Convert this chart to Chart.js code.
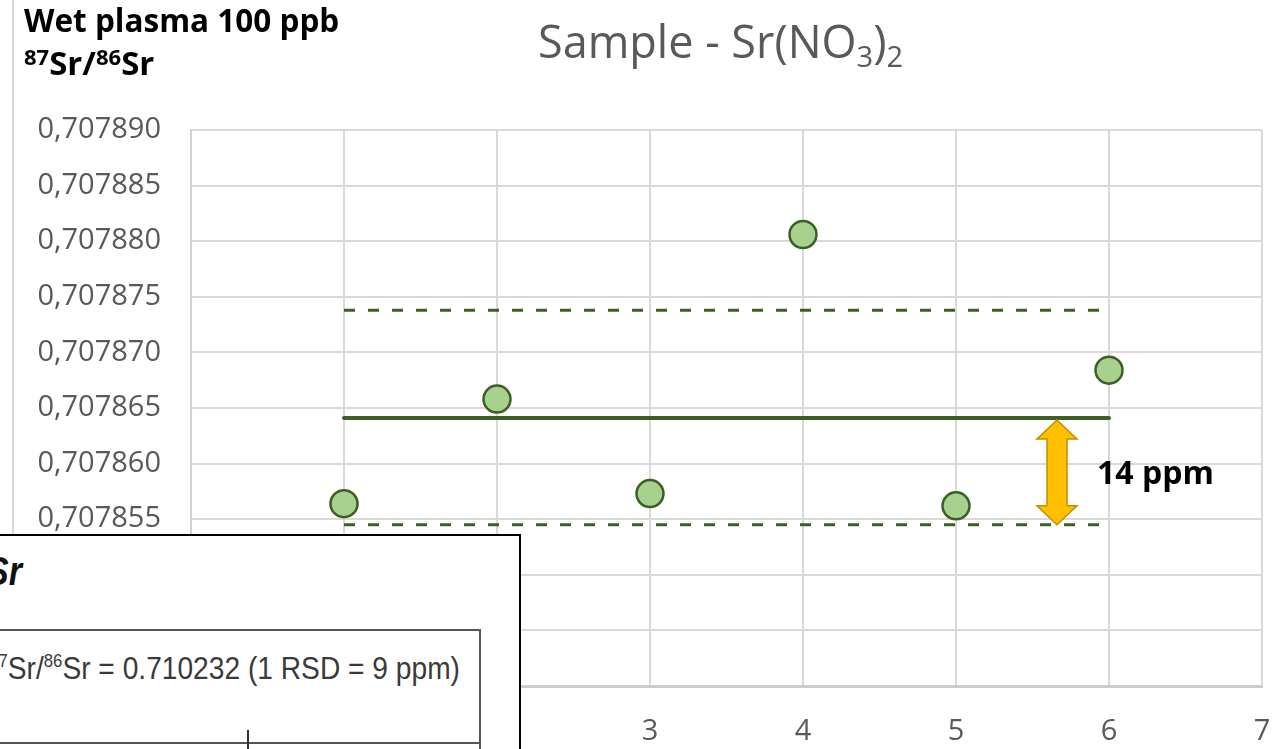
<!DOCTYPE html>
<html>
<head>
<meta charset="utf-8">
<script src="https://cdn.jsdelivr.net/npm/chart.js@4.4.1/dist/chart.umd.min.js"></script>
<style>
  html, body { margin:0; padding:0; background:#fff; overflow:hidden; }
  #wrap { position:relative; width:1278px; height:749px; overflow:hidden; }
  canvas { position:absolute; left:0; top:0; }
  .abs { position:absolute; white-space:nowrap; }
  #leftbar { position:absolute; left:12px; top:0; width:2px; height:540px; background:#d9d9d9; }
  #title { left:538px; top:13px; font-family:"Open Sans"; font-size:45px; color:#595959; line-height:56px; }
  #title sub { font-size:29px; vertical-align:-9px; line-height:0; }
  #tl1 { left:24px; top:-1px; font-family:"Open Sans"; font-weight:bold; font-size:31.5px; color:#000; line-height:42px; }
  #tl2 { left:24px; top:43px; font-family:"Open Sans"; font-weight:bold; font-size:33px; color:#000; line-height:40px; }
  #tl2 sup { font-size:22px; vertical-align:10px; line-height:0; }
  #inset { position:absolute; left:-10px; top:534px; width:527px; height:260px; border:2px solid #000; background:#fff; }
  #insetTitle { position:absolute; right:1256px; top:538px; font-family:"Liberation Sans"; font-weight:bold; font-style:italic; font-size:40px; color:#111; line-height:50px; transform:scaleX(0.85); transform-origin:right center; }
  #insetBox { position:absolute; left:-10px; top:629px; width:487px; height:160px; border:2px solid #555; }
  #insetLine { position:absolute; left:-10px; top:742px; width:489px; height:2px; background:#555; }
  #insetTick { position:absolute; left:247px; top:730px; width:2px; height:25px; background:#333; }
  #insetText { position:absolute; right:818px; top:648px; font-family:"Liberation Sans"; font-size:32px; color:#3a3a3a; line-height:40px; transform:scaleX(0.88); transform-origin:right center; }
  #insetText sup { font-size:19px; vertical-align:12px; line-height:0; }
</style>
</head>
<body>
<div id="wrap">
  <canvas id="c" width="1278" height="749"></canvas>
  <div id="leftbar"></div>
  <div id="title" class="abs">Sample - Sr(NO<sub>3</sub>)<sub>2</sub></div>
  <div id="tl1" class="abs">Wet plasma 100 ppb</div>
  <div id="tl2" class="abs"><sup>87</sup>Sr/<sup>86</sup>Sr</div>
  <div id="inset"></div>
  <div id="insetTitle" class="abs"><sup style="font-size:24px">87</sup>Sr/<sup style="font-size:24px">86</sup>Sr</div>
  <div id="insetBox"></div>
  <div id="insetLine"></div>
  <div id="insetTick"></div>
  <div id="insetText" class="abs"><sup>87</sup>Sr/<sup>86</sup>Sr = 0.710232 (1 RSD = 9 ppm)</div>
</div>
<script>
// ---- data ----
const runs = [1, 2, 3, 4, 5, 6];
const ratios = [0.7078564, 0.7078658, 0.7078573, 0.7078806, 0.7078562, 0.7078684];
const meanRatio = 0.7078641;
const upperRatio = 0.7078738;
const lowerRatio = 0.7078545;
const lineStartX = 1;
const lineEndX = 6;
const arrowX = 5.66;
const arrowLabel = "14 ppm";
const yTickValues = [0.707840, 0.707845, 0.707850, 0.707855, 0.707860, 0.707865, 0.707870, 0.707875, 0.707880, 0.707885, 0.707890];
const yTickLabels = ["0,707840", "0,707845", "0,707850", "0,707855", "0,707860", "0,707865", "0,707870", "0,707875", "0,707880", "0,707885", "0,707890"];
const xTickValues = [0, 1, 2, 3, 4, 5, 6, 7];
const xTickLabels = ["0", "1", "2", "3", "4", "5", "6", "7"];

const darkGreen = '#3b5f25';
const gridColor = '#d9d9d9';
const tickFont = { family: 'Open Sans', size: 29 };

const arrowPlugin = {
  id: 'arrowPlugin',
  afterDatasetsDraw(chart) {
    const ctx = chart.ctx;
    const xs = chart.scales.x, ys = chart.scales.y;
    const cx = xs.getPixelForValue(arrowX);
    const top = ys.getPixelForValue(meanRatio) + 2;
    const bot = ys.getPixelForValue(lowerRatio);
    const hw = 20, sw = 10, hh = 19;
    ctx.save();
    ctx.beginPath();
    ctx.moveTo(cx, top);
    ctx.lineTo(cx + hw, top + hh);
    ctx.lineTo(cx + sw, top + hh);
    ctx.lineTo(cx + sw, bot - hh);
    ctx.lineTo(cx + hw, bot - hh);
    ctx.lineTo(cx, bot);
    ctx.lineTo(cx - hw, bot - hh);
    ctx.lineTo(cx - sw, bot - hh);
    ctx.lineTo(cx - sw, top + hh);
    ctx.lineTo(cx - hw, top + hh);
    ctx.closePath();
    ctx.fillStyle = '#ffc000';
    ctx.fill();
    ctx.strokeStyle = '#c09000';
    ctx.lineWidth = 1.5;
    ctx.stroke();
    ctx.fillStyle = '#000';
    ctx.font = 'bold 32px "Open Sans"';
    ctx.textBaseline = 'alphabetic';
    ctx.textAlign = 'left';
    ctx.fillText(arrowLabel, cx + 40, (top + bot) / 2 + 12);
    ctx.restore();
  }
};

const lineData = v => [{ x: lineStartX, y: v }, { x: lineEndX, y: v }];

new Chart(document.getElementById('c'), {
  type: 'scatter',
  data: {
    datasets: [
      { type: 'line', data: lineData(upperRatio), borderColor: darkGreen, borderWidth: 3, borderDash: [11, 13], pointRadius: 0, order: 3 },
      { type: 'line', data: lineData(lowerRatio), borderColor: darkGreen, borderWidth: 3, borderDash: [11, 13], pointRadius: 0, order: 3 },
      { type: 'line', data: lineData(meanRatio), borderColor: darkGreen, borderWidth: 4, pointRadius: 0, borderCapStyle: 'round', order: 2 },
      { data: runs.map((r, i) => ({ x: r, y: ratios[i] })), backgroundColor: '#a9d18e', borderColor: darkGreen, borderWidth: 2.5, pointRadius: 13.5, pointHoverRadius: 13.5, order: 1 }
    ]
  },
  options: {
    responsive: false,
    animation: false,
    events: [],
    layout: { padding: { top: 130, right: 16, left: 0, bottom: 0 } },
    plugins: { legend: { display: false }, tooltip: { enabled: false }, title: { display: false } },
    scales: {
      x: {
        type: 'linear', min: 0, max: 7,
        afterBuildTicks: s => { s.ticks = xTickValues.map(v => ({ value: v })); },
        afterFit: s => { s.height = 63; s.paddingRight = 0; s.paddingLeft = 0; },
        ticks: { callback: (v, i) => xTickLabels[i], color: '#595959', font: tickFont, padding: 28, maxRotation: 0 },
        grid: { color: gridColor, lineWidth: 2, drawTicks: false },
        border: { color: '#cccccc', width: 3 }
      },
      y: {
        type: 'linear', min: yTickValues[0], max: yTickValues[yTickValues.length - 1],
        afterBuildTicks: s => { s.ticks = yTickValues.map(v => ({ value: v })); },
        afterFit: s => { s.width = 191; },
        ticks: { callback: (v, i) => yTickLabels[i], color: '#595959', font: tickFont, padding: 30 },
        grid: { color: gridColor, lineWidth: 2, drawTicks: false },
        border: { color: '#d0d0d0', width: 2 }
      }
    }
  },
  plugins: [arrowPlugin]
});
</script>
</body>
</html>
